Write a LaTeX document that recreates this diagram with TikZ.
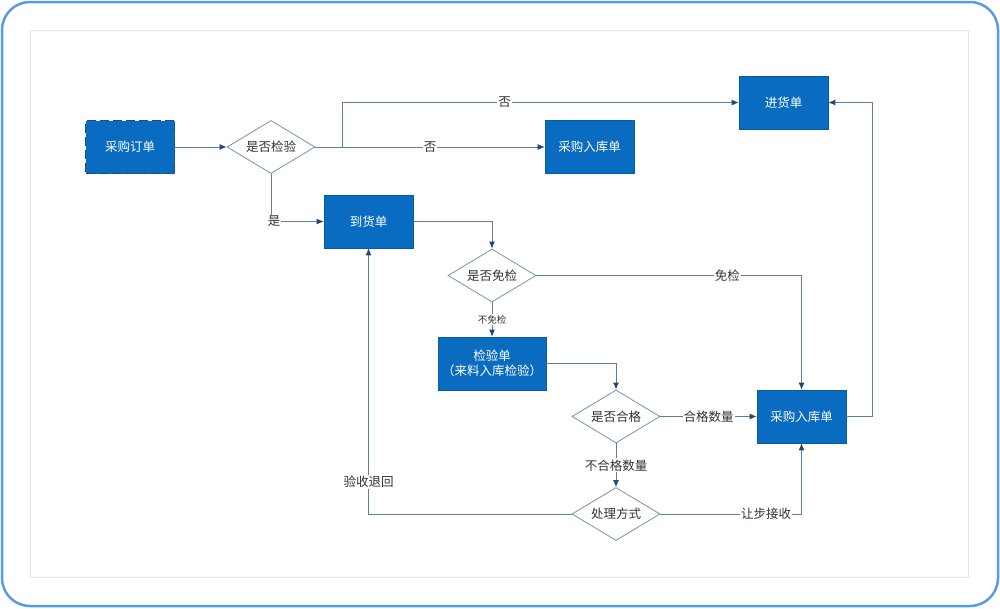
\documentclass[tikz,border=0pt]{standalone}
\usepackage{fontspec}
\newfontfamily\cjk{Noto Sans CJK SC}
\usetikzlibrary{shapes.geometric,arrows.meta}
\definecolor{boxblue}{HTML}{0A6CC0}
\definecolor{boxedge}{HTML}{1B4E85}
\definecolor{linec}{HTML}{5E7E9E}
\definecolor{arrowc}{HTML}{1F4A78}
\definecolor{dmedge}{HTML}{7593B3}
\definecolor{txt}{HTML}{333333}
\definecolor{frameblue}{HTML}{5A9BE8}
\definecolor{innergray}{HTML}{E2E4E6}
\tikzset{
  procbox/.style={draw=boxblue!85!black,line width=0.6pt,fill=boxblue,text=white,font=\cjk\fontsize{12.5}{15}\selectfont,minimum width=89pt,minimum height=53pt,inner sep=0pt,align=center},
  dashbox/.style={procbox,draw=boxedge,dash pattern=on 9pt off 4pt,line width=1.3pt},
  decide/.style={diamond,aspect=1.66,draw=dmedge,line width=0.8pt,fill=white,text=txt,font=\cjk\fontsize{12.5}{15}\selectfont,minimum width=88pt,minimum height=53pt,inner sep=0pt},
  conn/.style={draw=linec,line width=0.9pt,-{Latex[length=7pt,width=6pt,color=arrowc]}},
  lbl/.style={fill=white,text=txt,font=\cjk\fontsize{12.5}{15}\selectfont,inner sep=1pt},
  smalllbl/.style={lbl,font=\cjk\fontsize{9.5}{11}\selectfont}
}
\begin{document}
\begin{tikzpicture}[x=1pt,y=-1pt]
\useasboundingbox (0,0) rectangle (1000,608);
\fill[white] (0,0) rectangle (1000,608);
\draw[frameblue,line width=2.5pt,rounded corners=28pt] (2,2) rectangle (998,606);
\draw[innergray,line width=1pt] (30,30) rectangle (968,577);

\node[dashbox] (po) at (130,147) {采购订单};
\node[decide] (chk) at (271,147) {是否检验};
\node[procbox] (rk1) at (589.5,147) {采购入库单};
\node[procbox] (jh) at (783.5,102.5) {进货单};
\node[procbox] (dh) at (368.5,221.5) {到货单};
\node[decide] (mj) at (492,275.5) {是否免检};
\node[procbox,minimum width=108pt] (jy) at (492,363.5) {检验单\\（来料入库检验）};
\node[decide] (hg) at (616,416.5) {是否合格};
\node[procbox] (rk2) at (801.5,416.5) {采购入库单};
\node[decide] (cl) at (616,514) {处理方式};

\coordinate (split) at (342,147);
\coordinate (back) at (872,102.5);

\draw[conn] (po) -- (chk);
\draw[conn] (chk.east) -- node[lbl]{否} (rk1.west);
\draw[conn] (split) |- node[lbl,pos=0.705]{否} (jh.west);
\draw[conn] (chk.south) |- node[lbl,pos=0.5,xshift=3pt]{是} (dh.west);
\draw[conn] (dh.east) -| (mj.north);
\draw[conn] (mj.east) -| node[lbl,pos=0.36]{免检} (rk2.north);
\draw[conn] (mj.south) -- node[smalllbl]{不免检} (jy.north);
\draw[conn] (jy.east) -| (hg.north);
\draw[conn] (hg.east) -- node[lbl]{合格数量} (rk2.west);
\draw[conn] (hg.south) -- node[lbl]{不合格数量} (cl.north);
\draw[conn] (cl.west) -| node[lbl,pos=0.56]{验收退回} (dh.south);
\draw[conn] (cl.east) -| node[lbl,pos=0.375]{让步接收} (rk2.south);
\draw[conn] (rk2.east) -| (back) -- (jh.east);
\end{tikzpicture}
\end{document}
